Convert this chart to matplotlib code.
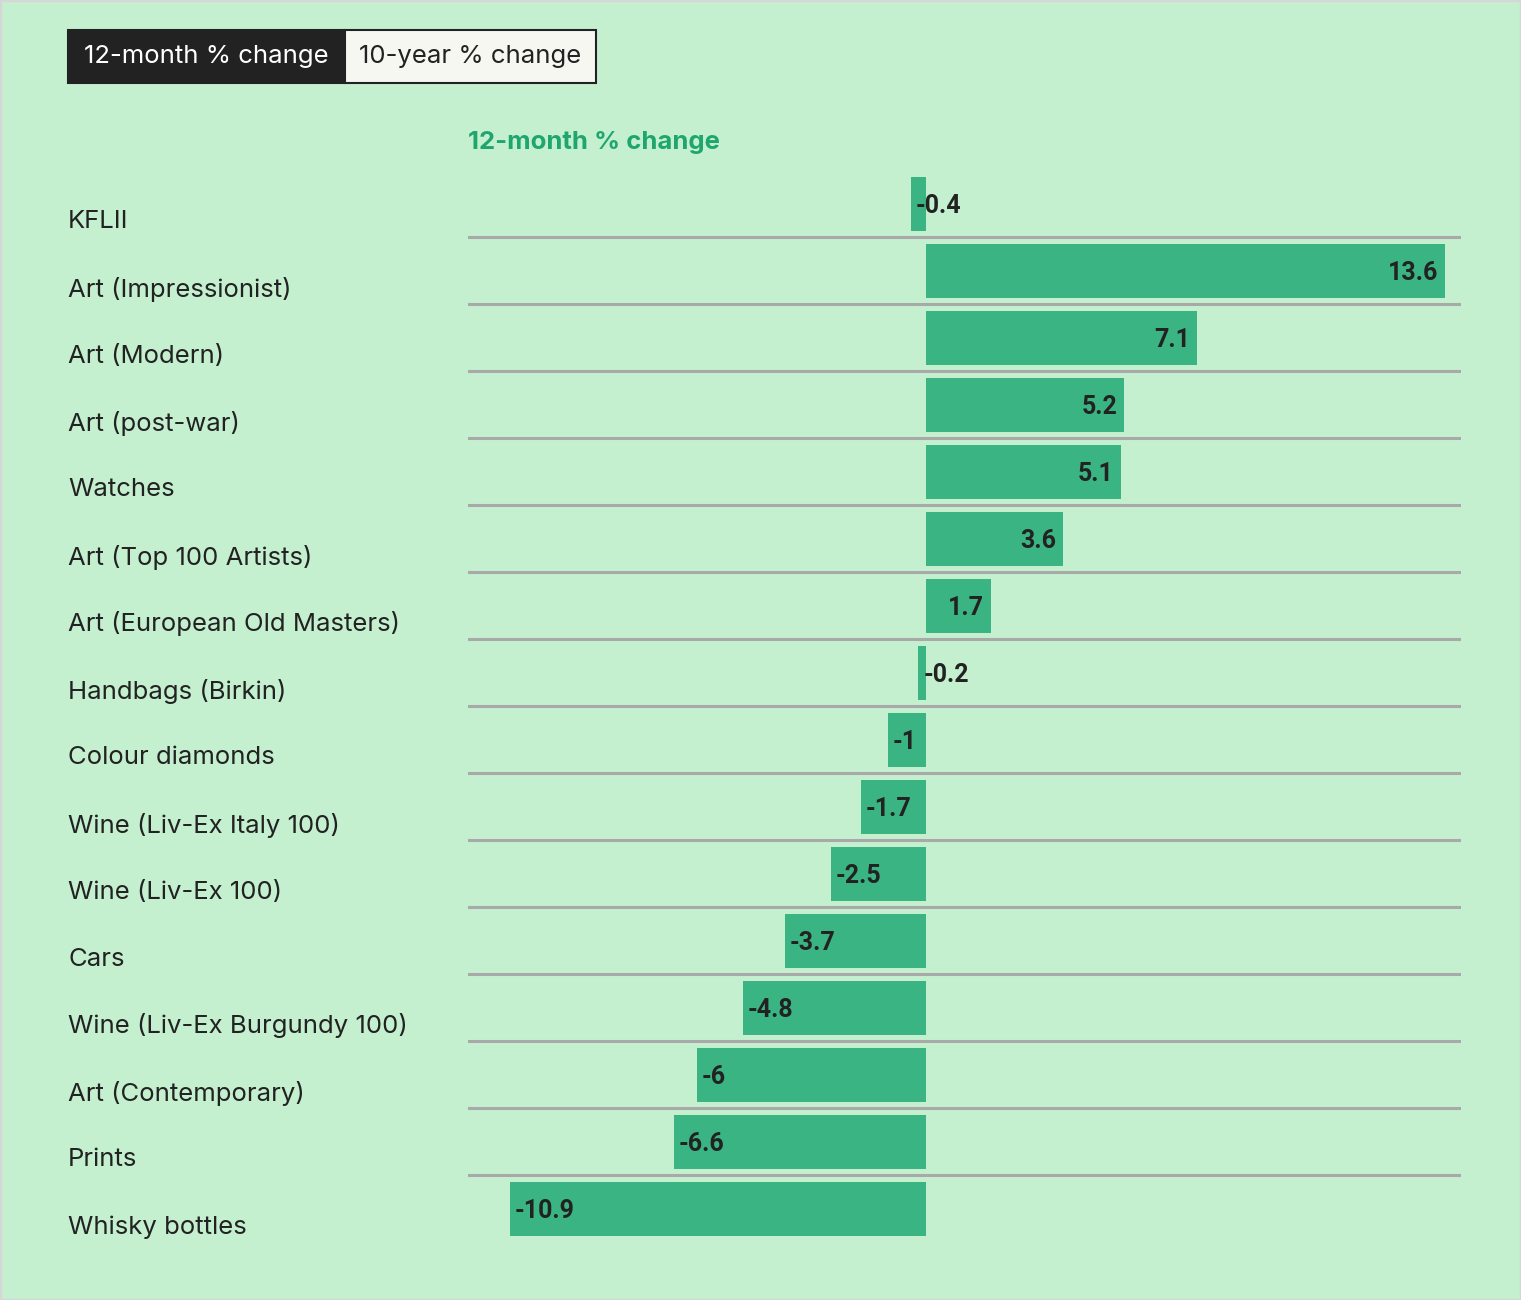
import matplotlib
matplotlib.use("Agg")
import matplotlib.pyplot as plt
from matplotlib.patches import Rectangle
from matplotlib.transforms import blended_transform_factory, ScaledTranslation

categories = ["KFLII", "Art (Impressionist)", "Art (Modern)", "Art (post-war)", "Watches",
              "Art (Top 100 Artists)", "Art (European Old Masters)", "Handbags (Birkin)",
              "Colour diamonds", "Wine (Liv-Ex Italy 100)", "Wine (Liv-Ex 100)", "Cars",
              "Wine (Liv-Ex Burgundy 100)", "Art (Contemporary)", "Prints", "Whisky bottles"]
values = [-0.4, 13.6, 7.1, 5.2, 5.1, 3.6, 1.7, -0.2, -1, -1.7, -2.5, -3.7, -4.8, -6, -6.6, -10.9]
value_labels = ["-0.4", "13.6", "7.1", "5.2", "5.1", "3.6", "1.7", "-0.2", "-1", "-1.7", "-2.5",
                "-3.7", "-4.8", "-6", "-6.6", "-10.9"]
tabs = ["12-month % change", "10-year % change"]
title = "12-month % change"

BG = "#c4f0d0"
BAR = "#3ab483"
TITLE_C = "#1fa66e"
SEP = "#a9a9a9"
DARK = "#222222"
FONT = ["Inter", "DejaVu Sans"]
VFONT = ["Roboto", "DejaVu Sans"]

W, H = 1521, 1300
fig = plt.figure(figsize=(W / 100, H / 100), dpi=100, facecolor=BG)

def fx(px):
    return px / W

def fy(py):
    return 1 - py / H

ax_left, ax_right = 468, 1461
ax_top, ax_bot = 170.5, 1242.5
ax = fig.add_axes([fx(ax_left), fy(ax_bot), fx(ax_right - ax_left), (ax_bot - ax_top) / H])
ax.set_facecolor("none")
n = len(categories)
ypos = list(range(n))
ax.barh(ypos, values, height=54 / 67, color=BAR, zorder=2)
ax.set_xlim(-12, 14.02)
ax.set_ylim(n - 0.5, -0.5)
ax.axis("off")

for i in range(n - 1):
    ax.axhline(i + 0.49, color=SEP, lw=2.2, zorder=1)

for i, (v, lab) in enumerate(zip(values, value_labels)):
    if v >= 0:
        ax.annotate(lab, (v, i), xytext=(-7, -2), textcoords="offset pixels",
                    ha="right", va="center", fontsize=18, fontweight="bold",
                    color=DARK, family=VFONT, zorder=3)
    else:
        ax.annotate(lab, (v, i), xytext=(5, -2), textcoords="offset pixels",
                    ha="left", va="center", fontsize=18, fontweight="bold",
                    color=DARK, family=VFONT, zorder=3)

trans = blended_transform_factory(fig.transFigure, ax.transData) + \
    ScaledTranslation(0, -18 / 100, fig.dpi_scale_trans)
for i, c in enumerate(categories):
    ax.text(fx(68), i, c, transform=trans, ha="left", va="center",
            fontsize=18.5, color=DARK, family=FONT, clip_on=False)

fig.text(fx(468), fy(143), title, ha="left", va="center", fontsize=18.5,
         fontweight="bold", color=TITLE_C, family=FONT)

fig.patches.append(Rectangle((fx(68), fy(83)), fx(345 - 68), (83 - 30) / H,
                             transform=fig.transFigure, facecolor=DARK, edgecolor=DARK, lw=1.5))
fig.patches.append(Rectangle((fx(345), fy(83)), fx(596 - 345), (83 - 30) / H,
                             transform=fig.transFigure, facecolor="#f7f7f2", edgecolor=DARK, lw=1.5))
fig.text(fx(206.5), fy(57), tabs[0], ha="center", va="center", fontsize=18.5,
         color="white", family=FONT)
fig.text(fx(470.5), fy(57), tabs[1], ha="center", va="center", fontsize=18.5,
         color=DARK, family=FONT)

fig.patches.append(Rectangle((0, 0), 1, 1, transform=fig.transFigure, facecolor="none",
                             edgecolor="#d6d6d6", lw=2.5))

fig.savefig("out.png", dpi=100, facecolor=BG)
